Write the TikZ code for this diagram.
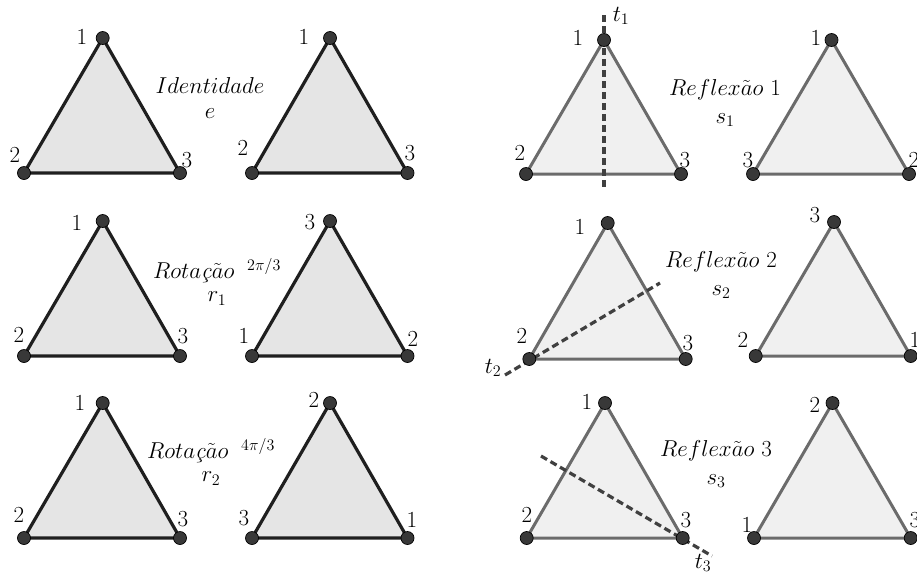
\RequirePackage{fix-cm}
\documentclass[tikz,border=0pt]{standalone}
\usepackage{amsmath}
\begin{document}
\begin{tikzpicture}[x=1pt,y=-1pt,
  darktri/.style={draw=black!88,fill=black!10,line width=3.2pt,line join=round},
  lighttri/.style={draw=black!58,fill=black!6,line width=3pt,line join=round},
  vdot/.style={circle,fill=black!78,draw=black,line width=0.7pt,inner sep=0pt,minimum size=13pt},
  lab/.style={font=\fontsize{23}{27}\selectfont,inner sep=0pt},
  oplab/.style={font=\fontsize{23}{27}\selectfont,inner sep=0pt,align=center},
  axis/.style={draw=black!75,line width=3.2pt,dash pattern=on 7pt off 4pt}]
\useasboundingbox (0,0) rectangle (917,574);
% ---------- left column ----------
% row 1
\coordinate (a1t) at (102.7,38); \coordinate (a1l) at (24,173); \coordinate (a1r) at (180,173);
\coordinate (b1t) at (330,38); \coordinate (b1l) at (252,173); \coordinate (b1r) at (407.5,173);
\draw[darktri] (a1t) -- (a1l) -- (a1r) -- cycle;
\draw[darktri] (b1t) -- (b1l) -- (b1r) -- cycle;
% row 2
\coordinate (a2t) at (102.7,221); \coordinate (a2l) at (24,356); \coordinate (a2r) at (180,356);
\coordinate (b2t) at (330,221); \coordinate (b2l) at (252,356); \coordinate (b2r) at (407.5,356);
\draw[darktri] (a2t) -- (a2l) -- (a2r) -- cycle;
\draw[darktri] (b2t) -- (b2l) -- (b2r) -- cycle;
% row 3
\coordinate (a3t) at (102.7,403); \coordinate (a3l) at (24,538); \coordinate (a3r) at (180,538);
\coordinate (b3t) at (330,403); \coordinate (b3l) at (252,538); \coordinate (b3r) at (407.5,538);
\draw[darktri] (a3t) -- (a3l) -- (a3r) -- cycle;
\draw[darktri] (b3t) -- (b3l) -- (b3r) -- cycle;
% ---------- right column ----------
\coordinate (c1t) at (604,40); \coordinate (c1l) at (526,174); \coordinate (c1r) at (681,174);
\coordinate (d1t) at (831.5,40); \coordinate (d1l) at (753,174); \coordinate (d1r) at (909,174);
\draw[lighttri] (c1t) -- (c1l) -- (c1r) -- cycle;
\draw[lighttri] (d1t) -- (d1l) -- (d1r) -- cycle;
\coordinate (c2t) at (607.7,223); \coordinate (c2l) at (529.3,359); \coordinate (c2r) at (685.7,359);
\coordinate (d2t) at (834,222); \coordinate (d2l) at (755.7,356); \coordinate (d2r) at (910.7,356);
\draw[lighttri] (c2t) -- (c2l) -- (c2r) -- cycle;
\draw[lighttri] (d2t) -- (d2l) -- (d2r) -- cycle;
\coordinate (c3t) at (605,403); \coordinate (c3l) at (526.7,538); \coordinate (c3r) at (682.7,538);
\coordinate (d3t) at (832.5,403); \coordinate (d3l) at (754,538); \coordinate (d3r) at (910.7,538);
\draw[lighttri] (c3t) -- (c3l) -- (c3r) -- cycle;
\draw[lighttri] (d3t) -- (d3l) -- (d3r) -- cycle;
% ---------- reflection axes ----------
\coordinate (t1a) at (604,15); \coordinate (t1b) at (604,187);
\coordinate (t2a) at (505,375); \coordinate (t2b) at (660,283);
\coordinate (t3a) at (541,456); \coordinate (t3b) at (712,556);
\draw[axis] (t1a) -- (t1b);
\draw[axis] (t2a) -- (t2b);
\draw[axis] (t3a) -- (t3b);
% ---------- vertex dots ----------
\foreach \p in {a1t,a1l,a1r,b1t,b1l,b1r,a2t,a2l,a2r,b2t,b2l,b2r,a3t,a3l,a3r,b3t,b3l,b3r,
                c1t,c1l,c1r,d1t,d1l,d1r,c2t,c2l,c2r,d2t,d2l,d2r,c3t,c3l,c3r,d3t,d3l,d3r}
  \node[vdot] (dot-\p) at (\p) {};
% ---------- vertex labels ----------
\node[lab] (la1t) at (82,37) {1};  \node[lab] (la1l) at (15,155) {2}; \node[lab] (la1r) at (187,160) {3};
\node[lab] (lb1t) at (304,37) {1}; \node[lab] (lb1l) at (243,148) {2}; \node[lab] (lb1r) at (410,153) {3};
\node[lab] (la2t) at (77,223) {1}; \node[lab] (la2l) at (19,335) {2}; \node[lab] (la2r) at (183,336) {3};
\node[lab] (lb2t) at (310,222) {3}; \node[lab] (lb2l) at (244,336) {1}; \node[lab] (lb2r) at (413,339) {2};
\node[lab] (la3t) at (80,403) {1}; \node[lab] (la3l) at (19,515) {2}; \node[lab] (la3r) at (183,519) {3};
\node[lab] (lb3t) at (314,400) {2}; \node[lab] (lb3l) at (244,518) {3}; \node[lab] (lb3r) at (412,520) {1};
\node[lab] (lc1t) at (578,38) {1}; \node[lab] (lc1l) at (520,153) {2}; \node[lab] (lc1r) at (685,160) {3};
\node[lab] (ld1t) at (816,38) {1}; \node[lab] (ld1l) at (748,160) {3}; \node[lab] (ld1r) at (914,160) {2};
\node[lab] (lc2t) at (580,227) {1}; \node[lab] (lc2l) at (522,336) {2}; \node[lab] (lc2r) at (688,343) {3};
\node[lab] (ld2t) at (815,215) {3}; \node[lab] (ld2l) at (743,340) {2}; \node[lab] (ld2r) at (915,340) {1};
\node[lab] (lc3t) at (587,402) {1}; \node[lab] (lc3l) at (527,515) {2}; \node[lab] (lc3r) at (686,520) {3};
\node[lab] (ld3t) at (815,405) {2}; \node[lab] (ld3l) at (747,525) {1}; \node[lab] (ld3r) at (915,520) {3};
% axis labels
\node[lab] (lt1) at (621,16) {$t_1$};
\node[lab] (lt2) at (493,368) {$t_2$};
\node[lab] (lt3) at (703,563) {$t_3$};
% ---------- operation names ----------
\node[oplab] (nid) at (210,98) {$Identidade$\\[-2pt]$e$};
\node[oplab] (nr1) at (217,282) {$Rota$\textit{\c{c}}$\tilde{a}o\;\; {}^{2\pi/3}$\\[-4pt]$r_1$};
\node[oplab] (nr2) at (211,462) {$Rota$\textit{\c{c}}$\tilde{a}o\;\; {}^{4\pi/3}$\\[-4pt]$r_2$};
\node[oplab] (ns1) at (725,103) {$Reflex\tilde{a}o\ 1$\\[1pt]$s_1$};
\node[oplab] (ns2) at (721,275) {$Reflex\tilde{a}o\ 2$\\[1pt]$s_2$};
\node[oplab] (ns3) at (716,464) {$Reflex\tilde{a}o\ 3$\\[1pt]$s_3$};
\end{tikzpicture}
\end{document}
